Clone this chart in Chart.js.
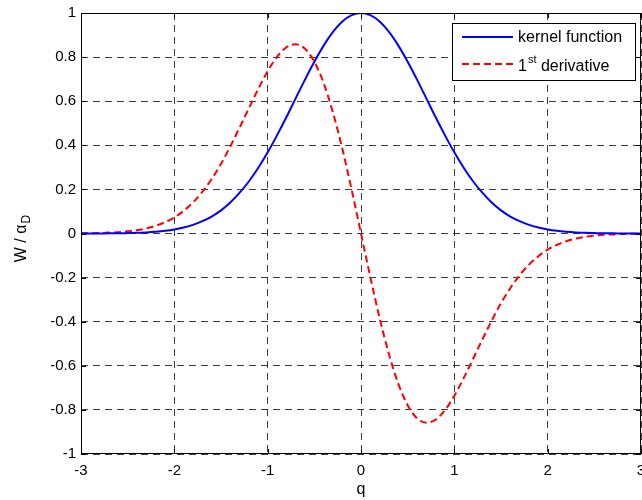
<!DOCTYPE html>
<html>
<head>
<meta charset="utf-8">
<script src="https://cdn.jsdelivr.net/npm/chart.js@4"></script>
<style>
  html, body { margin: 0; padding: 0; background: #fff; }
  canvas { display: block; }
</style>
</head>
<body>
<canvas id="kernel-chart" width="642" height="500"></canvas>
<script>
// values
const qValues = [
  -3.0, -2.9, -2.8, -2.7, -2.6, -2.5, -2.4, -2.3, -2.2, -2.1,
  -2.0, -1.9, -1.8, -1.7, -1.6, -1.5, -1.4, -1.3, -1.2, -1.1,
  -1.0, -0.9, -0.8, -0.7, -0.6, -0.5, -0.4, -0.3, -0.2, -0.1,
  0.0, 0.1, 0.2, 0.3, 0.4, 0.5, 0.6, 0.7, 0.8, 0.9,
  1.0, 1.1, 1.2, 1.3, 1.4, 1.5, 1.6, 1.7, 1.8, 1.9,
  2.0, 2.1, 2.2, 2.3, 2.4, 2.5, 2.6, 2.7, 2.8, 2.9, 3.0
];

const kernel = [
  0.000, 0.000, 0.000, 0.001, 0.001, 0.002, 0.003, 0.005, 0.008, 0.012,
  0.018, 0.027, 0.039, 0.056, 0.077, 0.105, 0.141, 0.185, 0.237, 0.298,
  0.368, 0.445, 0.527, 0.613, 0.698, 0.779, 0.852, 0.914, 0.961, 0.990,
  1.000, 0.990, 0.961, 0.914, 0.852, 0.779, 0.698, 0.613, 0.527, 0.445,
  0.368, 0.298, 0.237, 0.185, 0.141, 0.105, 0.077, 0.056, 0.039, 0.027,
  0.018, 0.012, 0.008, 0.005, 0.003, 0.002, 0.001, 0.001, 0.000, 0.000, 0.000
];

const derivative = [
  0.001, 0.001, 0.002, 0.004, 0.006, 0.010, 0.015, 0.023, 0.035, 0.051,
  0.073, 0.103, 0.141, 0.189, 0.247, 0.316, 0.395, 0.481, 0.569, 0.656,
  0.736, 0.801, 0.844, 0.858, 0.838, 0.779, 0.682, 0.548, 0.384, 0.198,
  0.000, -0.198, -0.384, -0.548, -0.682, -0.779, -0.838, -0.858, -0.844, -0.801,
  -0.736, -0.656, -0.569, -0.481, -0.395, -0.316, -0.247, -0.189, -0.141, -0.103,
  -0.073, -0.051, -0.035, -0.023, -0.015, -0.010, -0.006, -0.004, -0.002, -0.001, -0.001
];

const xTicks = [-3, -2, -1, 0, 1, 2, 3];
const yTicks = [-1, -0.8, -0.6, -0.4, -0.2, 0, 0.2, 0.4, 0.6, 0.8, 1];

const FONT = '"Liberation Sans", Arial, sans-serif';

// box, tick marks, axis titles with sub/superscript and the legend
const decorations = {
  id: 'decorations',
  afterDatasetsDraw(chart) {
    const { ctx, chartArea: a, scales } = chart;
    ctx.save();
    ctx.strokeStyle = '#000';
    ctx.lineWidth = 1;
    ctx.setLineDash([]);
    ctx.strokeRect(a.left + 0.5, a.top + 0.5, a.right - a.left - 1, a.bottom - a.top - 1);

    // inward ticks
    ctx.beginPath();
    xTicks.forEach(v => {
      const x = Math.round(scales.x.getPixelForValue(v)) + 0.5;
      ctx.moveTo(x, a.bottom); ctx.lineTo(x, a.bottom - 5);
      ctx.moveTo(x, a.top); ctx.lineTo(x, a.top + 5);
    });
    yTicks.forEach(v => {
      const y = Math.round(scales.y.getPixelForValue(v)) + 0.5;
      ctx.moveTo(a.left, y); ctx.lineTo(a.left + 5, y);
      ctx.moveTo(a.right, y); ctx.lineTo(a.right - 5, y);
    });
    ctx.stroke();

    // x title
    ctx.fillStyle = '#000';
    ctx.font = '16px ' + FONT;
    ctx.textAlign = 'center';
    ctx.textBaseline = 'alphabetic';
    ctx.fillText('q', (a.left + a.right) / 2, 494);

    // y title: W / α with subscript D
    ctx.translate(26, 239);
    ctx.rotate(-Math.PI / 2);
    ctx.textAlign = 'left';
    const main = 'W / \u03b1';
    ctx.font = '16px ' + FONT;
    const wMain = ctx.measureText(main).width;
    ctx.font = '12px ' + FONT;
    const wSub = ctx.measureText('D').width;
    const start = -(wMain + wSub) / 2;
    ctx.font = '16px ' + FONT;
    ctx.fillText(main, start, 0);
    ctx.font = '12px ' + FONT;
    ctx.fillText('D', start + wMain + 1, 4);
    ctx.setTransform(1, 0, 0, 1, 0, 0);

    // legend
    const lx = 452, ly = 23, lw = 183, lh = 57;
    ctx.fillStyle = '#fff';
    ctx.fillRect(lx, ly, lw, lh);
    ctx.strokeStyle = '#000';
    ctx.strokeRect(lx + 0.5, ly + 0.5, lw, lh);
    ctx.lineWidth = 2;
    ctx.strokeStyle = '#0000ff';
    ctx.beginPath(); ctx.moveTo(462, 37); ctx.lineTo(513, 37); ctx.stroke();
    ctx.strokeStyle = '#ff0000';
    ctx.setLineDash([7, 4]);
    ctx.beginPath(); ctx.moveTo(462, 64); ctx.lineTo(513, 64); ctx.stroke();
    ctx.setLineDash([]);
    ctx.fillStyle = '#000';
    ctx.font = '16px ' + FONT;
    ctx.fillText('kernel function', 518, 42);
    ctx.fillText('1', 518, 71);
    const w1 = ctx.measureText('1').width;
    ctx.font = '11px ' + FONT;
    ctx.fillText('st', 518 + w1 + 1, 63);
    const wst = ctx.measureText('st').width;
    ctx.font = '16px ' + FONT;
    ctx.fillText(' derivative', 518 + w1 + 1 + wst, 71);
    ctx.restore();
  }
};

const ctx = document.getElementById('kernel-chart').getContext('2d');

new Chart(ctx, {
  type: 'line',
  data: {
    datasets: [
      {
        label: 'kernel function',
        data: qValues.map((q, i) => ({ x: q, y: kernel[i] })),
        borderColor: '#0000ff',
        borderWidth: 2,
        fill: false,
        cubicInterpolationMode: 'monotone',
        pointRadius: 0,
      },
      {
        label: '1st derivative',
        data: qValues.map((q, i) => ({ x: q, y: derivative[i] })),
        borderColor: '#ff0000',
        borderWidth: 2,
        borderDash: [7, 4],
        fill: false,
        cubicInterpolationMode: 'monotone',
        pointRadius: 0,
      },
    ],
  },
  options: {
    responsive: false,
    animation: false,
    devicePixelRatio: 1,
    layout: {
      padding: { top: 13, right: 1, left: 0, bottom: 0 },
    },
    plugins: {
      legend: false,
      tooltip: false,
    },
    scales: {
      x: {
        type: 'linear',
        min: -3,
        max: 3,
        afterBuildTicks: (scale) => { scale.ticks = xTicks.map(v => ({ value: v })); },
        afterFit: (scale) => { scale.height = 46; scale.paddingLeft = 0; scale.paddingRight = 0; },
        grid: {
          color: 'rgba(0,0,0,0.75)',
          lineWidth: 1,
          drawTicks: false,
        },
        border: { display: false, dash: [7, 5] },
        ticks: {
          color: '#000',
          font: { family: FONT, size: 15 },
          padding: 8,
          maxRotation: 0,
          autoSkip: false,
        },
      },
      y: {
        min: -1,
        max: 1,
        afterBuildTicks: (scale) => { scale.ticks = yTicks.map(v => ({ value: v })); },
        afterFit: (scale) => { scale.width = 81; scale.paddingTop = 0; scale.paddingBottom = 0; },
        grid: {
          color: 'rgba(0,0,0,0.75)',
          lineWidth: 1,
          drawTicks: false,
        },
        border: { display: false, dash: [7, 5] },
        ticks: {
          color: '#000',
          font: { family: FONT, size: 15 },
          padding: 5,
          autoSkip: false,
          callback: (v) => String(Math.round(v * 10) / 10),
        },
      },
    },
  },
  plugins: [decorations],
});
</script>
</body>
</html>
